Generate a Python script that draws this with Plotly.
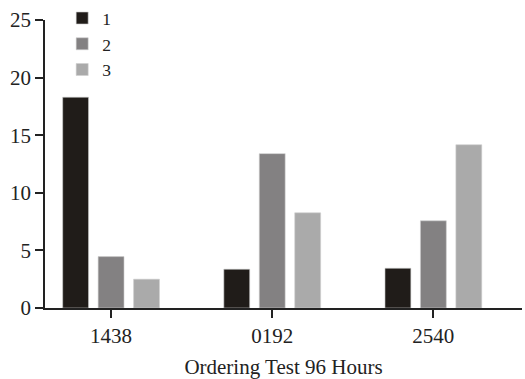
import plotly.graph_objects as go

categories = ["1438", "0192", "2540"]
series_names = ["1", "2", "3"]
series1 = [18.3, 3.37, 3.45]
series2 = [4.46, 13.4, 7.57]
series3 = [2.5, 8.26, 14.17]
colors = ["#201c19", "#838182", "#aaaaaa"]
y_ticks = [0, 5, 10, 15, 20, 25]

fig = go.Figure()
for name, vals, col in zip(series_names, [series1, series2, series3], colors):
    fig.add_trace(go.Bar(x=categories, y=vals, name=name,
                         marker=dict(color=col, line=dict(color="#cfcfcf", width=0.6))))

font = dict(family="Liberation Serif, Times New Roman, serif", size=21, color="#222")
fig.update_layout(
    width=525, height=379,
    margin=dict(l=45, r=3, t=20, b=71, autoexpand=False),
    paper_bgcolor="white", plot_bgcolor="white",
    barmode="group", bargap=0.34, bargroupgap=0.27,
    font=font,
    showlegend=True,
    legend=dict(x=0.036, y=1.069, xanchor="left", yanchor="top",
                bgcolor="rgba(0,0,0,0)", font=dict(size=17.5), tracegroupgap=0,
                itemwidth=30),
    xaxis=dict(title=dict(text="Ordering Test 96 Hours", font=dict(size=21), standoff=14),
               showline=True, linecolor="#222", linewidth=1.5,
               ticks="outside", ticklen=8, tickcolor="#222", tickwidth=1.5,
               range=[-0.41, 2.55], showgrid=False, zeroline=False, automargin=False),
    yaxis=dict(range=[0, 25], tickvals=y_ticks, showline=True, linecolor="#222", linewidth=1.5,
               ticks="outside", ticklen=8, tickcolor="#222", tickwidth=1.5,
               showgrid=False, zeroline=False, automargin=False),
)
fig.write_html("out.html", config={"displayModeBar": False},
               post_script="document.body.style.margin='0';")
